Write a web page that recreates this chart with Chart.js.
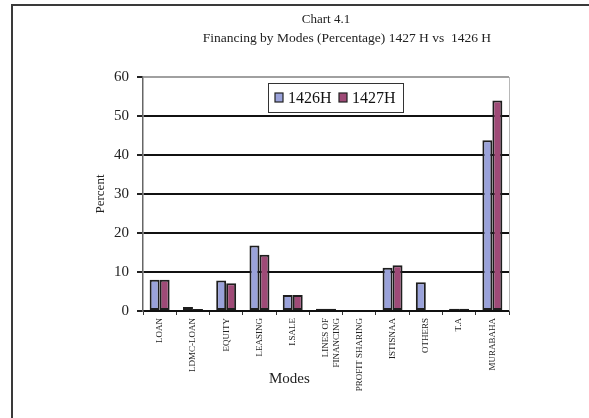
<!DOCTYPE html>
<html>
<head>
<meta charset="utf-8">
<title>Financing by Modes</title>
<script src="https://cdn.jsdelivr.net/npm/chart.js@4.4.1/dist/chart.umd.min.js"></script>
<style>
  html, body { margin: 0; padding: 0; background: #fff; }
  #wrap { position: relative; width: 589px; height: 418px; overflow: hidden; }
  #frame {
    position: absolute; left: 11px; top: 4px; right: -10px; bottom: -10px;
    border-left: 2px solid #3a3a3a; border-top: 2px solid #3a3a3a;
  }
  canvas { position: absolute; left: 0; top: 0; }
</style>
</head>
<body>
<div id="wrap">
  <div id="frame"></div>
  <canvas id="chart" width="589" height="418"></canvas>
</div>
<script>
// Financing modes (categories)
const modes = [
  'LOAN', 'LDMC-LOAN', 'EQUITY', 'LEASING', 'I.SALE',
  ['LINES OF', 'FINANCING'], 'PROFIT SHARING', 'ISTISNAA', 'OTHERS', 'T.A', 'MURABAHA'
];

// Share of total financing, percent
const share1426 = [8.0, 1.0, 7.8, 16.8, 4.1, 0.6, 0, 11.1, 7.4, 0.6, 43.8];
const share1427 = [8.0, 0.5, 7.1, 14.4, 4.1, 0.6, 0, 11.7, 0, 0.6, 54.0];

const seriesNames = ['1426H', '1427H'];
const yTicks = [0, 10, 20, 30, 40, 50, 60];

const chartTitle = 'Chart 4.1';
const chartSubtitle = 'Financing by Modes (Percentage) 1427 H vs  1426 H';
const xCaption = 'Modes';
const yCaption = 'Percent';

const serif = '"Liberation Serif", "DejaVu Serif", serif';

// Boxed legend drawn inside the plot area
const boxedLegend = {
  id: 'boxedLegend',
  afterDatasetsDraw(chart) {
    const { ctx, chartArea } = chart;
    const x0 = chartArea.left + 125, y0 = chartArea.top + 6;
    const w = 135, h = 29;
    ctx.save();
    ctx.fillStyle = '#fff';
    ctx.fillRect(x0, y0, w, h);
    ctx.strokeStyle = '#333';
    ctx.lineWidth = 1;
    ctx.strokeRect(x0 + 0.5, y0 + 0.5, w, h);
    ctx.font = '16px ' + serif;
    ctx.textBaseline = 'middle';
    let x = x0 + 7;
    chart.data.datasets.forEach(ds => {
      ctx.fillStyle = ds.backgroundColor;
      ctx.fillRect(x, y0 + 10, 8, 9);
      ctx.strokeStyle = '#222';
      ctx.lineWidth = 1.2;
      ctx.strokeRect(x, y0 + 10, 8, 9);
      ctx.fillStyle = '#111';
      ctx.fillText(ds.label, x + 13, y0 + 15.5);
      x += 64;
    });
    ctx.restore();
  }
};

// Subtitle line, right edge of the plot and the x-axis caption
const plotExtras = {
  id: 'plotExtras',
  afterDraw(chart) {
    const { ctx, chartArea } = chart;
    const w = chartArea.right - chartArea.left;
    ctx.save();
    ctx.strokeStyle = '#b8b8b8';
    ctx.lineWidth = 1;
    ctx.beginPath();
    ctx.moveTo(chartArea.right + 0.5, chartArea.top);
    ctx.lineTo(chartArea.right + 0.5, chartArea.bottom);
    ctx.stroke();

    ctx.fillStyle = '#222';
    ctx.textAlign = 'center';
    ctx.textBaseline = 'middle';
    ctx.font = '13.5px ' + serif;
    ctx.fillText(chartSubtitle, chartArea.left + w * 0.557, 38);

    ctx.font = '15px ' + serif;
    ctx.fillText(xCaption, chartArea.left + w * 0.4, chartArea.bottom + 68);
    ctx.restore();
  }
};

new Chart(document.getElementById('chart'), {
  type: 'bar',
  data: {
    labels: modes,
    datasets: [
      { label: seriesNames[0], data: share1426, backgroundColor: '#9aa2da', borderColor: '#1e1e1e', borderWidth: 2, borderSkipped: false },
      { label: seriesNames[1], data: share1427, backgroundColor: '#9f4a77', borderColor: '#1e1e1e', borderWidth: 2, borderSkipped: false }
    ]
  },
  options: {
    responsive: false,
    animation: false,
    devicePixelRatio: 1,
    categoryPercentage: 0.6,
    barPercentage: 1.0,
    layout: { padding: { left: 80, right: 80, top: 0, bottom: 27 } },
    plugins: {
      legend: { display: false },
      tooltip: { enabled: false },
      title: {
        display: true,
        text: chartTitle,
        fullSize: false,
        color: '#222',
        font: { family: serif, size: 13, weight: 'normal' },
        padding: { top: 12, bottom: 49.4 }
      }
    },
    scales: {
      x: {
        afterFit(scale) { scale.height = 80; },
        grid: {
          display: true,
          drawOnChartArea: false,
          drawTicks: true,
          tickLength: 4,
          tickColor: '#333',
          offset: true
        },
        border: { display: true, color: '#111', width: 1.5 },
        ticks: {
          autoSkip: false,
          minRotation: 90,
          maxRotation: 90,
          padding: 3,
          color: '#222',
          font: { family: serif, size: 9 }
        }
      },
      y: {
        min: 0,
        max: 60,
        afterFit(scale) { scale.width = 63; },
        afterBuildTicks(scale) { scale.ticks = yTicks.map(v => ({ value: v })); },
        grid: {
          color: ctx => (ctx.tick && ctx.tick.value === 60 ? '#a0a0a0' : '#111'),
          lineWidth: 2,
          drawTicks: true,
          tickLength: 6,
          tickColor: '#222'
        },
        border: { display: true, color: '#666', width: 1.5 },
        ticks: {
          padding: 8,
          color: '#222',
          font: { family: serif, size: 15 }
        },
        title: {
          display: true,
          text: yCaption,
          color: '#222',
          font: { family: serif, size: 13 },
          padding: { top: 13, bottom: 0 }
        }
      }
    }
  },
  plugins: [boxedLegend, plotExtras]
});
</script>
</body>
</html>
